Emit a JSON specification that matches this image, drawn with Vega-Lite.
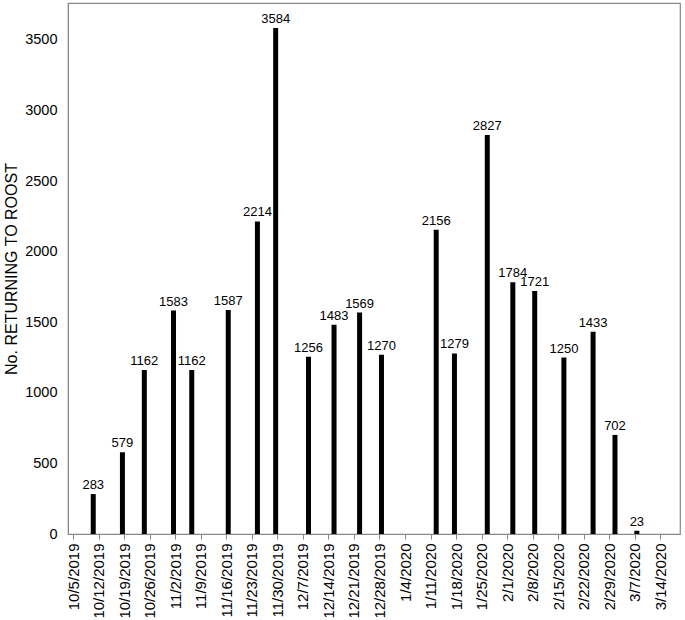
{
  "$schema": "https://vega.github.io/schema/vega-lite/v6.json",
  "autosize": {"type": "none"},
  "width": 612,
  "height": 531,
  "padding": {"left": 68, "top": 3, "right": 5, "bottom": 86},
  "background": "white",
  "config": {
    "font": "Liberation Sans",
    "view": {"stroke": "#888888", "strokeWidth": 1.2},
    "axis": {"grid": false, "domainColor": "#888888", "tickColor": "#888888", "labelColor": "black", "titleColor": "black", "labelFont": "Liberation Sans", "titleFont": "Liberation Sans"}
  },
  "data": {"values": [
    {"date": "2019-10-10", "count": 283},
    {"date": "2019-10-18", "count": 579},
    {"date": "2019-10-24", "count": 1162},
    {"date": "2019-11-01", "count": 1583},
    {"date": "2019-11-06", "count": 1162},
    {"date": "2019-11-16", "count": 1587},
    {"date": "2019-11-24", "count": 2214},
    {"date": "2019-11-29", "count": 3584},
    {"date": "2019-12-08", "count": 1256},
    {"date": "2019-12-15", "count": 1483},
    {"date": "2019-12-22", "count": 1569},
    {"date": "2019-12-28", "count": 1270},
    {"date": "2020-01-12", "count": 2156},
    {"date": "2020-01-17", "count": 1279},
    {"date": "2020-01-26", "count": 2827},
    {"date": "2020-02-02", "count": 1784},
    {"date": "2020-02-08", "count": 1721},
    {"date": "2020-02-16", "count": 1250},
    {"date": "2020-02-24", "count": 1433},
    {"date": "2020-03-01", "count": 702},
    {"date": "2020-03-07", "count": 23}
  ]},
  "encoding": {
    "x": {
      "field": "date", "type": "temporal",
      "scale": {"type": "utc", "domain": ["2019-10-05T00:00:00Z", "2020-03-18T00:00:00Z"]},
      "axis": {
        "title": null,
        "values": ["2019-10-05T00:00:00Z","2019-10-12T00:00:00Z","2019-10-19T00:00:00Z","2019-10-26T00:00:00Z","2019-11-02T00:00:00Z","2019-11-09T00:00:00Z","2019-11-16T00:00:00Z","2019-11-23T00:00:00Z","2019-11-30T00:00:00Z","2019-12-07T00:00:00Z","2019-12-14T00:00:00Z","2019-12-21T00:00:00Z","2019-12-28T00:00:00Z","2020-01-04T00:00:00Z","2020-01-11T00:00:00Z","2020-01-18T00:00:00Z","2020-01-25T00:00:00Z","2020-02-01T00:00:00Z","2020-02-08T00:00:00Z","2020-02-15T00:00:00Z","2020-02-22T00:00:00Z","2020-02-29T00:00:00Z","2020-03-07T00:00:00Z","2020-03-14T00:00:00Z"],
        "labelExpr": "utcFormat(datum.value, '%-m/%-d/%Y')",
        "labelAngle": -90,
        "labelAlign": "right",
        "labelBaseline": "middle",
        "labelFontSize": 15,
        "labelPadding": 4,
        "tickSize": 5,
        "labelOverlap": false,
        "labelBound": false,
        "labelFlush": false
      }
    },
    "y": {
      "field": "count", "type": "quantitative",
      "scale": {"domain": [0, 3762], "nice": false},
      "axis": {
        "title": "No. RETURNING TO ROOST",
        "format": "d",
        "values": [0, 500, 1000, 1500, 2000, 2500, 3000, 3500],
        "labelFontSize": 14.5,
        "titleFontSize": 16,
        "titleFontWeight": "normal",
        "titlePadding": 5,
        "tickSize": 0,
        "labelPadding": 11
      }
    }
  },
  "layer": [
    {"mark": {"type": "bar", "color": "black", "size": 5, "xOffset": 2}},
    {"mark": {"type": "text", "dy": -9, "xOffset": 2, "fontSize": 13, "color": "black", "font": "Liberation Sans"},
     "encoding": {"text": {"field": "count", "type": "quantitative", "format": "d"}}}
  ]
}
